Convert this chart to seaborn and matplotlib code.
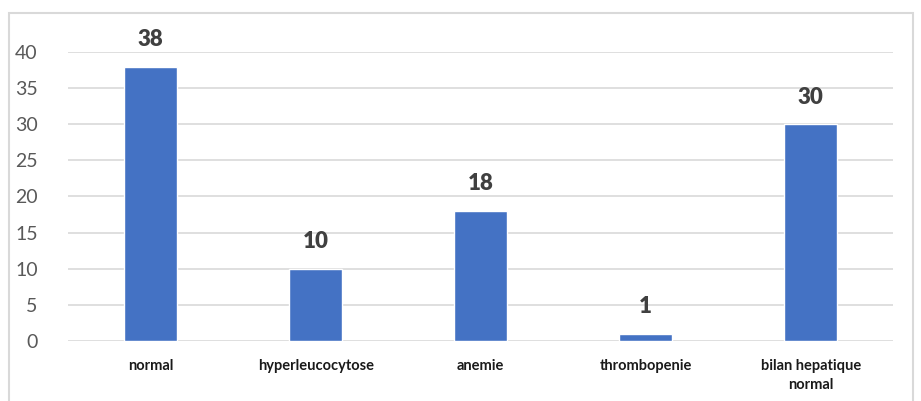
import matplotlib
matplotlib.use("Agg")
import matplotlib.pyplot as plt
import seaborn as sns
import pandas as pd
from matplotlib.patches import Rectangle

categories = ["normal", "hyperleucocytose", "anemie", "thrombopenie", "bilan hepatique\nnormal"]
values = [38, 10, 18, 1, 30]
yticks = [0, 5, 10, 15, 20, 25, 30, 35, 40]

df = pd.DataFrame({"cat": categories, "val": values})

sns.set_theme(style="white")
plt.rcParams["font.family"] = ["Lato", "DejaVu Sans"]

fig = plt.figure(figsize=(9.21, 4.01), dpi=100)
ax = fig.add_axes([0.074, 0.15, 0.896, 0.72])

sns.barplot(data=df, x="cat", y="val", color="#4472C4", width=0.32,
            saturation=1, ax=ax, zorder=3)

ax.set_ylim(0, 40)
ax.set_yticks(yticks)
ax.set_xlim(-0.5, 4.5)
ax.yaxis.grid(True, color="#d9d9d9", linewidth=1.2, zorder=0)
ax.set_axisbelow(True)
for s in ax.spines.values():
    s.set_visible(False)
ax.set_xlabel("")
ax.set_ylabel("")
ax.tick_params(axis="y", labelsize=14, colors="#595959", pad=22, length=0)
ax.tick_params(axis="x", labelsize=10.5, colors="#1a1a1a", pad=13, length=0)
for lbl in ax.get_xticklabels():
    lbl.set_fontweight("bold")
    lbl.set_linespacing(1.5)

for i, v in enumerate(values):
    ax.annotate(str(v), (i, v), xytext=(0, 12), textcoords="offset points",
                ha="center", va="bottom", fontsize=16, fontweight="heavy",
                color="#404040", annotation_clip=False)

fig.patches.append(Rectangle((9 / 921, -0.05), 904 / 921, 1.05 - 13 / 401,
                             transform=fig.transFigure, fill=False,
                             edgecolor="#d9d9d9", linewidth=1.5))

fig.savefig("out.png", dpi=100)
